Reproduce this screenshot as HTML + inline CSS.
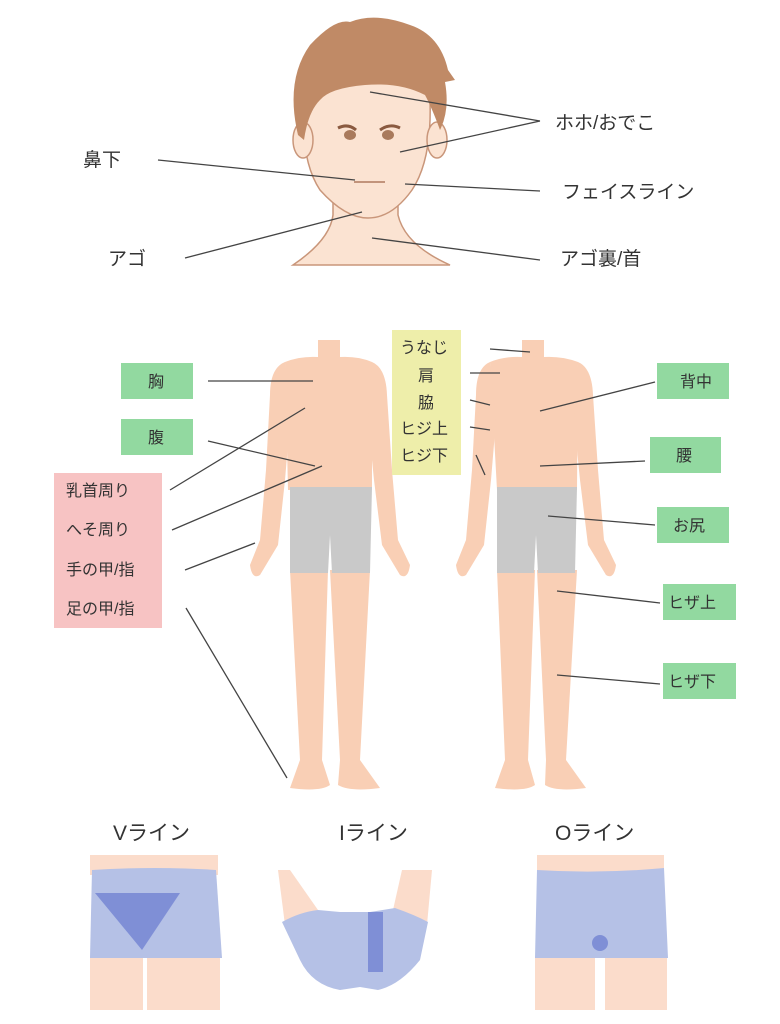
<!DOCTYPE html>
<html><head><meta charset="utf-8"><style>
html,body{margin:0;padding:0;background:#fff;}
svg{display:block;}
text{font-family:"Liberation Sans","Noto Sans CJK JP",sans-serif;}
</style></head><body>
<svg width="780" height="1024" viewBox="0 0 780 1024" xmlns="http://www.w3.org/2000/svg">
<!-- HEAD -->
<g>
<path d="M293,265 Q330,240 333,215 L333,190 L398,190 L398,215 Q405,245 450,265 Z" fill="#fbe3d2" stroke="#c9967a" stroke-width="1.5"/>
<path d="M304,100 Q300,160 320,190 Q345,218 368,218 Q392,218 412,190 Q432,160 430,100 Q420,70 368,68 Q315,70 304,100 Z" fill="#fbe3d2" stroke="#c9967a" stroke-width="1.5"/>
<ellipse cx="303" cy="140" rx="10" ry="18" fill="#fbe3d2" stroke="#c9967a" stroke-width="1.5"/>
<ellipse cx="437" cy="140" rx="10" ry="18" fill="#fbe3d2" stroke="#c9967a" stroke-width="1.5"/>
<path d="M298,135 Q285,80 310,45 Q335,18 350,22 Q375,12 410,25 Q440,35 448,70 L455,80 L445,82 Q450,110 440,130 Q432,108 425,95 Q400,82 365,85 Q330,88 320,100 Q308,112 304,140 Z" fill="#c08a66"/>
<path d="M338,128 Q348,123 356,130" stroke="#8a5a40" stroke-width="3" fill="none"/>
<path d="M380,130 Q390,123 400,128" stroke="#8a5a40" stroke-width="3" fill="none"/>
<ellipse cx="350" cy="135" rx="6" ry="5" fill="#a97a5c"/>
<ellipse cx="388" cy="135" rx="6" ry="5" fill="#a97a5c"/>
<path d="M354,182 L385,182" stroke="#b07a60" stroke-width="1.5"/>
</g>
<g stroke="#444" stroke-width="1.3" fill="none">
<line x1="370" y1="92" x2="540" y2="121"/>
<line x1="400" y1="152" x2="540" y2="121"/>
<line x1="158" y1="160" x2="355" y2="180"/>
<line x1="405" y1="184" x2="540" y2="191"/>
<line x1="185" y1="258" x2="362" y2="212"/>
<line x1="372" y1="238" x2="540" y2="260"/>
</g>
<g font-size="19" fill="#333">
<text x="555" y="129">ホホ/おでこ</text>
<text x="562" y="198">フェイスライン</text>
<text x="560" y="265">アゴ裏/首</text>
<text x="83" y="166">鼻下</text>
<text x="108" y="265">アゴ</text>
</g>
<!-- FRONT BODY -->
<g fill="#f9cfb5">
<rect x="318" y="340" width="22" height="25"/>
<path d="M285,362 Q300,356 318,357 L340,357 Q358,356 372,362 L372,490 L288,490 Z"/>
<path d="M285,362 Q270,368 270,395 L266,470 L260,540 L250,565 Q252,580 260,575 L278,545 L285,480 L290,420 Z"/>
<path d="M372,362 Q386,368 387,395 L392,470 L398,540 L410,565 Q408,580 400,575 L382,545 L374,480 L368,420 Z"/>
<path d="M290,570 L328,570 L322,760 L330,785 Q320,792 290,788 L300,760 Z"/>
<path d="M330,570 L370,570 L360,760 L380,788 Q350,792 338,785 L340,760 Z"/>
</g>
<path d="M290,487 L372,487 L370,573 L332,573 L330,535 L328,573 L290,573 Z" fill="#c9c9c9"/>
<!-- BACK BODY -->
<g fill="#f9cfb5">
<rect x="522" y="340" width="22" height="25"/>
<path d="M490,362 Q505,356 522,357 L544,357 Q562,356 578,362 L577,490 L497,490 Z"/>
<path d="M490,362 Q476,368 476,395 L472,470 L466,540 L456,565 Q458,580 466,575 L484,545 L491,480 L496,420 Z"/>
<path d="M578,362 Q592,368 593,395 L598,470 L604,540 L616,565 Q614,580 606,575 L588,545 L580,480 L574,420 Z"/>
<path d="M497,570 L535,570 L528,760 L535,785 Q525,792 495,788 L505,760 Z"/>
<path d="M537,570 L577,570 L566,760 L586,788 Q556,792 545,785 L546,760 Z"/>
</g>
<path d="M497,487 L577,487 L575,573 L538,573 L536,535 L534,573 L497,573 Z" fill="#c9c9c9"/>
<!-- label boxes -->
<g fill="#92d9a0">
<rect x="121" y="363" width="72" height="36"/>
<rect x="121" y="419" width="72" height="36"/>
<rect x="657" y="363" width="72" height="36"/>
<rect x="650" y="437" width="71" height="36"/>
<rect x="657" y="507" width="72" height="36"/>
<rect x="663" y="584" width="73" height="36"/>
<rect x="663" y="663" width="73" height="36"/>
</g>
<rect x="54" y="473" width="108" height="155" fill="#f7c3c3"/>
<rect x="392" y="330" width="69" height="145" fill="#eeeeaa"/>
<g font-size="16" fill="#333">
<text x="148" y="387">胸</text>
<text x="148" y="443">腹</text>
<text x="680" y="387">背中</text>
<text x="676" y="461">腰</text>
<text x="673" y="531">お尻</text>
<text x="668" y="608">ヒザ上</text>
<text x="668" y="687">ヒザ下</text>
<text x="66" y="496">乳首周り</text>
<text x="66" y="535">へそ周り</text>
<text x="66" y="575">手の甲/指</text>
<text x="66" y="614">足の甲/指</text>
<text x="400" y="353">うなじ</text>
<text x="418" y="381">肩</text>
<text x="418" y="408">脇</text>
<text x="400" y="434">ヒジ上</text>
<text x="400" y="461">ヒジ下</text>
</g>
<g stroke="#444" stroke-width="1.3" fill="none">
<line x1="208" y1="381" x2="313" y2="381"/>
<line x1="208" y1="441" x2="315" y2="466"/>
<line x1="170" y1="490" x2="305" y2="408"/>
<line x1="172" y1="530" x2="322" y2="466"/>
<line x1="185" y1="570" x2="255" y2="543"/>
<line x1="186" y1="608" x2="287" y2="778"/>
<line x1="490" y1="349" x2="530" y2="352"/>
<line x1="470" y1="373" x2="500" y2="373"/>
<line x1="470" y1="400" x2="490" y2="405"/>
<line x1="470" y1="427" x2="490" y2="430"/>
<line x1="476" y1="455" x2="485" y2="475"/>
<line x1="540" y1="411" x2="655" y2="382"/>
<line x1="540" y1="466" x2="645" y2="461"/>
<line x1="548" y1="516" x2="655" y2="525"/>
<line x1="557" y1="591" x2="660" y2="603"/>
<line x1="557" y1="675" x2="660" y2="684"/>
</g>
<!-- bottom diagrams -->
<g font-size="21" fill="#333">
<text x="113" y="840">Vライン</text>
<text x="339" y="840">Iライン</text>
<text x="555" y="840">Oライン</text>
</g>
<!-- V -->
<rect x="90" y="855" width="128" height="20" fill="#fbdccb"/>
<path d="M92,870 Q155,866 216,870 L222,958 L90,958 Z" fill="#b5c1e6"/>
<rect x="90" y="958" width="53" height="52" fill="#fbdccb"/>
<rect x="147" y="958" width="73" height="52" fill="#fbdccb"/>
<path d="M95,893 L180,893 L142,950 Z" fill="#7f8fd6"/>
<!-- I -->
<path d="M278,870 L290,870 L318,910 L318,920 L285,925 Z" fill="#fbdccb"/>
<path d="M402,870 L432,870 L427,925 L393,918 L393,910 Z" fill="#fbdccb"/>
<path d="M282,922 Q300,912 318,910 L340,912 L370,912 L395,908 Q415,915 428,922 L420,960 Q400,985 378,990 L360,987 L340,990 Q312,985 300,960 Z" fill="#b5c1e6"/>
<rect x="368" y="912" width="15" height="60" fill="#7f8fd6"/>
<!-- O -->
<rect x="537" y="855" width="127" height="22" fill="#fbdccb"/>
<path d="M537,870 Q600,874 664,868 L668,958 L535,958 Z" fill="#b5c1e6"/>
<rect x="535" y="958" width="60" height="52" fill="#fbdccb"/>
<rect x="605" y="958" width="62" height="52" fill="#fbdccb"/>
<circle cx="600" cy="943" r="8" fill="#7f8fd6"/>
</svg>
</body></html>
